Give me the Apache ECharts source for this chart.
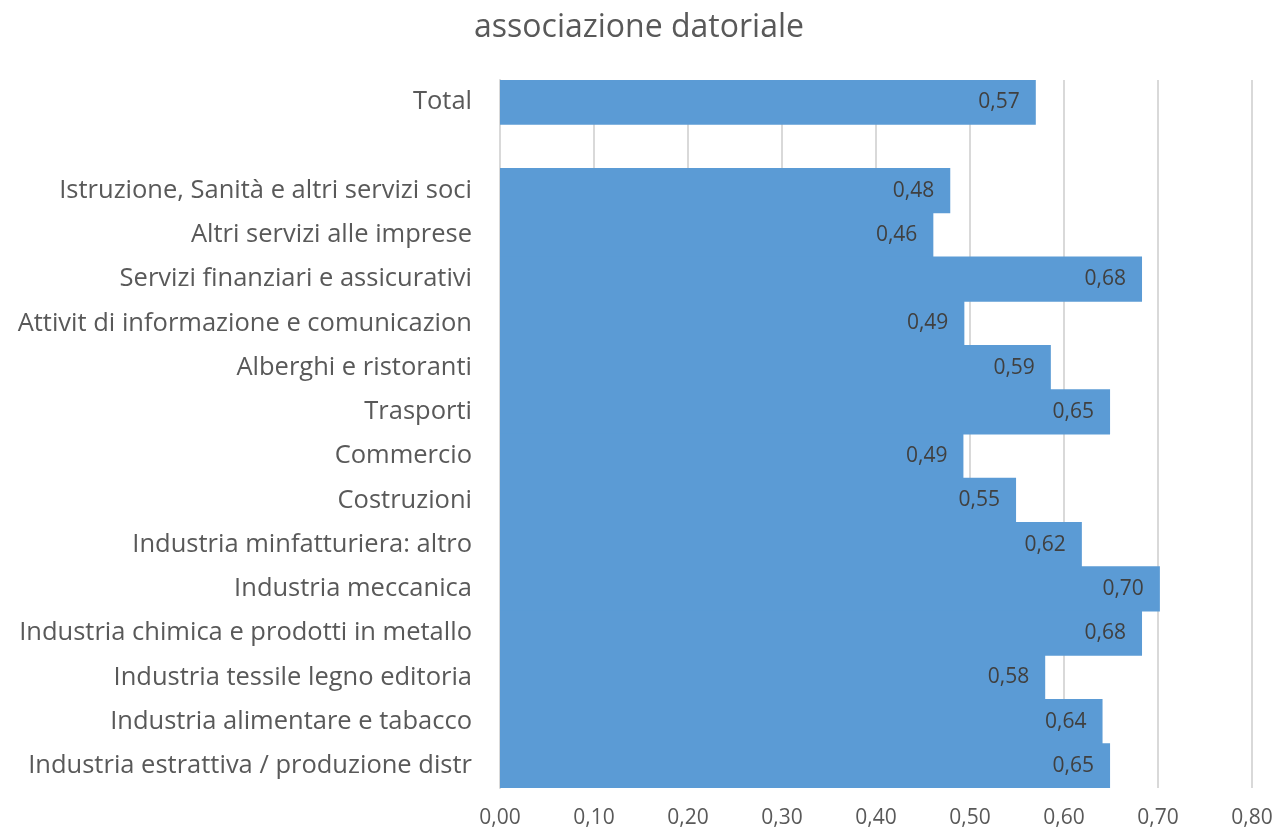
<!DOCTYPE html>
<html>
<head>
<meta charset="utf-8">
<script src="https://cdn.jsdelivr.net/npm/echarts@6/dist/echarts.min.js"></script>
<style>
  html, body { margin: 0; padding: 0; background: #fff; }
  #chart { width: 1278px; height: 830px; }
</style>
</head>
<body>
<div id="chart"></div>
<script>
// categories top to bottom; the empty one is the spacer row under Total
const categories = [
  'Total',
  '',
  'Istruzione, Sanità e altri servizi soci',
  'Altri servizi alle imprese',
  'Servizi finanziari e assicurativi',
  'Attivit di informazione e comunicazion',
  'Alberghi e ristoranti',
  'Trasporti',
  'Commercio',
  'Costruzioni',
  'Industria minfatturiera: altro',
  'Industria meccanica',
  'Industria chimica e prodotti in metallo',
  'Industria tessile legno editoria',
  'Industria alimentare e tabacco',
  'Industria estrattiva / produzione distr'
]
const values = [0.570, null, 0.479, 0.461, 0.683, 0.494, 0.586, 0.649, 0.493, 0.549, 0.619, 0.702, 0.683, 0.580, 0.641, 0.649]
const xTicks = [0, 0.1, 0.2, 0.3, 0.4, 0.5, 0.6, 0.7, 0.8]

const fmt = v => v.toFixed(2).replace('.', ',')
const font = 'Open Sans, sans-serif'

const myChart = echarts.init(document.getElementById('chart'))

const option = {
  animation: false,
  title: {
    text: 'associazione datoriale',
    left: 'center',
    top: 7,
    textStyle: { fontSize: 32, fontWeight: 'normal', color: '#595959', fontFamily: font }
  },
  grid: { left: 500, right: 26, top: 80, bottom: 42, containLabel: false },
  xAxis: {
    type: 'value',
    min: xTicks[0],
    max: xTicks[xTicks.length - 1],
    interval: 0.1,
    axisLine: { show: false },
    axisTick: { show: false },
    splitLine: { show: true, lineStyle: { color: '#d9d9d9', width: 2 } },
    axisLabel: { formatter: fmt, color: '#595959', fontSize: 21, fontFamily: font, margin: 20 }
  },
  yAxis: {
    type: 'category',
    data: categories,
    inverse: true,
    axisLine: { show: true, lineStyle: { color: '#d9d9d9', width: 2 } },
    axisTick: { show: false },
    axisLabel: { color: '#595959', fontSize: 25.5, fontFamily: font, margin: 28 }
  },
  series: [{
    type: 'bar',
    data: values,
    // slight overlap so adjacent bars leave no anti-aliased seam
    barCategoryGap: '-2%',
    itemStyle: { color: '#5b9bd5' },
    label: {
      show: true,
      position: 'insideRight',
      distance: 16,
      formatter: p => fmt(p.value),
      color: '#404040',
      fontSize: 21,
      fontFamily: font
    }
  }]
}

myChart.setOption(option)
</script>
</body>
</html>
